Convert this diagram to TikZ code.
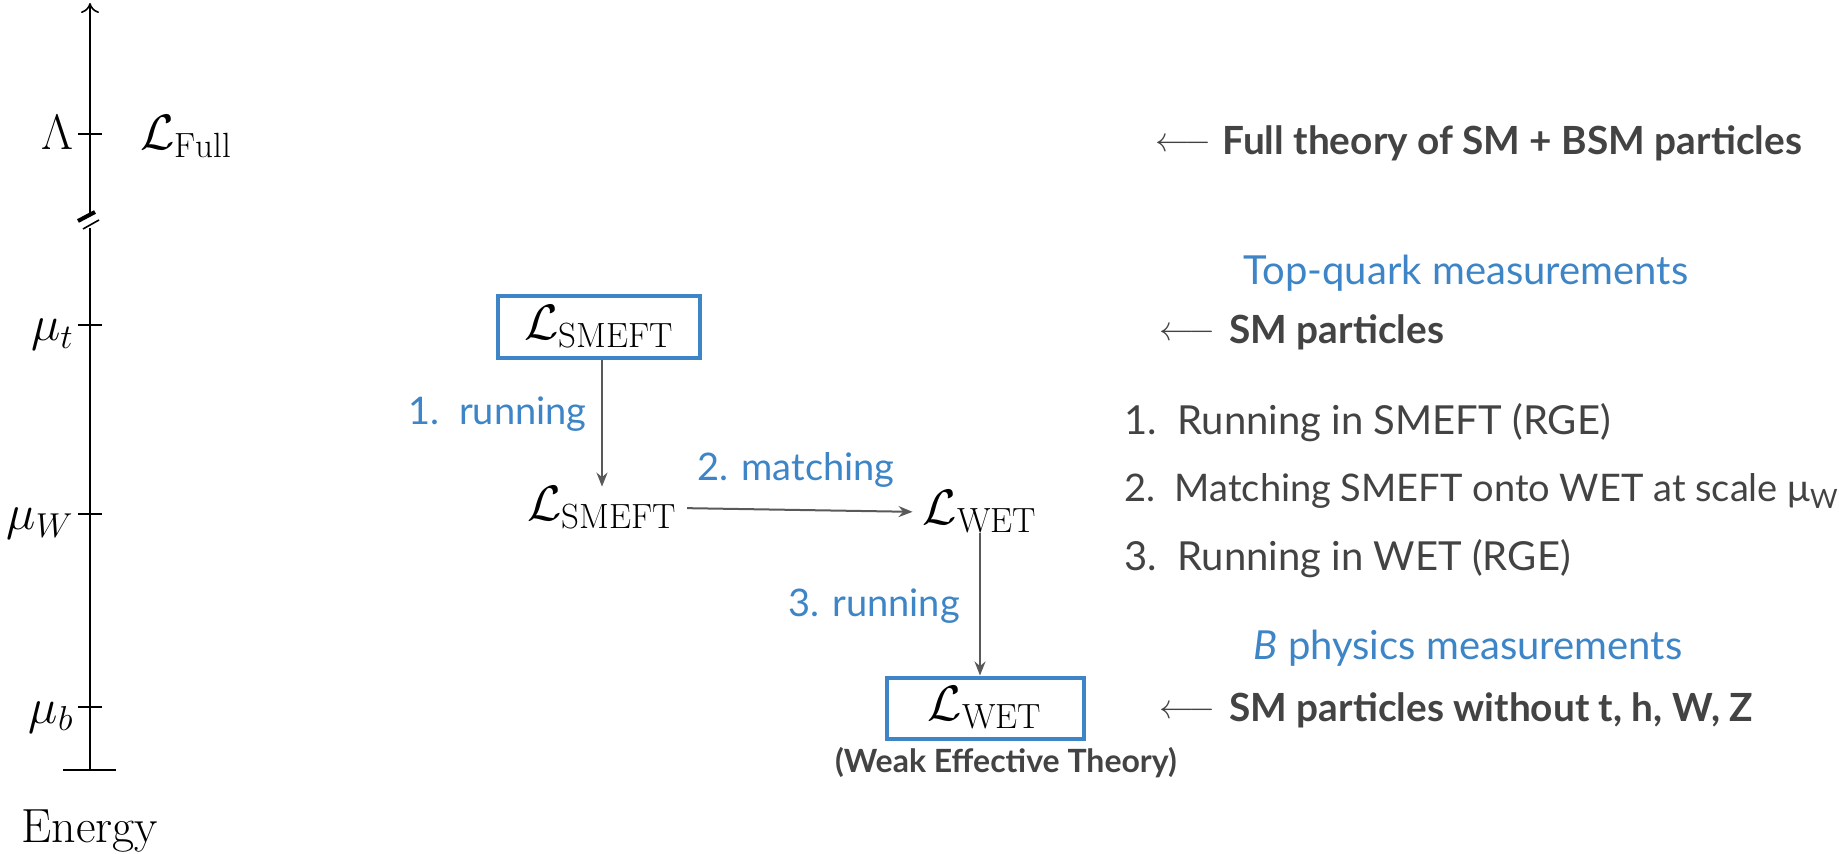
\documentclass[tikz,border=0pt]{standalone}
\usepackage{fontspec}
\newfontfamily\lato{Lato}
\usetikzlibrary{arrows.meta}
\definecolor{myblue}{HTML}{3D85C6}
\definecolor{txtgray}{HTML}{434343}
\definecolor{arrowgray}{HTML}{595959}
\begin{document}
\begin{tikzpicture}[x=0.5pt,y=-0.5pt,
  ax/.style={line width=0.8pt},
  conn/.style={draw=arrowgray, line width=1pt, -{Stealth[length=7pt,width=5.5pt]}},
  bluebox/.style={draw=myblue, line width=2pt, inner sep=0pt},
  mth/.style={font=\fontsize{25}{30}\selectfont, inner sep=0pt},
  lbl/.style={text=myblue, font=\lato\fontsize{19}{23}\selectfont, inner sep=0pt},
  head/.style={text=myblue, font=\lato\fontsize{20}{24}\selectfont, inner sep=0pt},
  bold/.style={text=txtgray, font=\lato\bfseries\fontsize{19.4}{24}\selectfont, inner sep=0pt, anchor=west},
  item/.style={text=txtgray, font=\lato\fontsize{20}{24}\selectfont, inner sep=0pt, anchor=west},
  larr/.style={text=txtgray, font=\fontsize{16}{20}\selectfont, inner sep=0pt, anchor=west}
]
\useasboundingbox (0,0) rectangle (1839,854);

% energy axis
\draw[ax,-{To[length=5pt,width=9pt]}] (90,213) -- (90,3);
\draw[ax] (90,228) -- (90,770);
\draw[line width=2pt] (78,221) -- (95,212);
\draw[ax] (83,229) -- (99,220);
\draw[ax] (63,770) -- (116,770);
\foreach \yy in {134,325,514,707} \draw[ax] (78,\yy) -- (102,\yy);
\node[mth,anchor=base east] (lam) at (74,150) {$\Lambda$};
\node[mth,anchor=base east] (mut) at (74,341) {$\mu_t$};
\node[mth,anchor=base east] (muw) at (74,530) {$\mu_W$};
\node[mth,anchor=base east] (mub) at (74,723) {$\mu_b$};
\node[mth,anchor=base west] (lfull) at (140,150) {$\mathcal{L}_{\rm Full}$};
\node[font=\fontsize{24}{29}\selectfont,inner sep=0pt,anchor=base] (energy) at (90,842) {Energy};

% flow
\node[bluebox,minimum width=101pt,minimum height=31pt] (smeftbox) at (599,327) {\fontsize{25}{30}\selectfont$\mathcal{L}_{\rm SMEFT}$};
\node[mth] (smeft2) at (602,508) {$\mathcal{L}_{\rm SMEFT}$};
\node[mth] (wet1) at (980,512) {$\mathcal{L}_{\rm WET}$};
\node[bluebox,minimum width=98.5pt,minimum height=30.5pt] (wetbox) at (985,708) {\fontsize{25}{30}\selectfont$\mathcal{L}_{\rm WET}$};
\node[text=txtgray,font=\lato\bfseries\fontsize{16}{19}\selectfont,inner sep=0pt] (weak) at (1006,763) {(Weak Effective Theory)};

\draw[conn] (smeftbox.south -| smeft2.north) -- (smeft2.north);
\draw[conn,shorten <=5pt,shorten >=5pt] (smeft2.east) -- (wet1.west);
\draw[conn] (wet1.south) -- (wet1.south |- wetbox.north);

\node[lbl,anchor=east] (l1) at (587,414) {1.\ \ running};
\node[lbl] (l2) at (796,470) {2. matching};
\node[lbl] (l3) at (874,606) {3. running};

% right side
\node[larr] (a1) at (1155,145) {$\longleftarrow$};
\node[bold] (t1) at (1222,143) {Full theory of SM + BSM particles};
\node[head] (h1) at (1466,273) {Top-quark measurements};
\node[larr] (a2) at (1159,334) {$\longleftarrow$};
\node[bold] (t2) at (1229,332) {SM particles};
\node[item] (i1) at (1124,423) {1.\ \ Running in SMEFT (RGE)};
\node[item,font=\lato\fontsize{19}{23}\selectfont] (i2) at (1124,491) {2.\ \ Matching SMEFT onto WET at scale μ\textsubscript{W}};
\node[item] (i3) at (1124,559) {3.\ \ Running in WET (RGE)};
\node[head] (h2) at (1468,648) {\textit{B} physics measurements};
\node[larr] (a3) at (1159,712) {$\longleftarrow$};
\node[bold] (t3) at (1229,710) {SM particles without t, h, W, Z};
\end{tikzpicture}
\end{document}
